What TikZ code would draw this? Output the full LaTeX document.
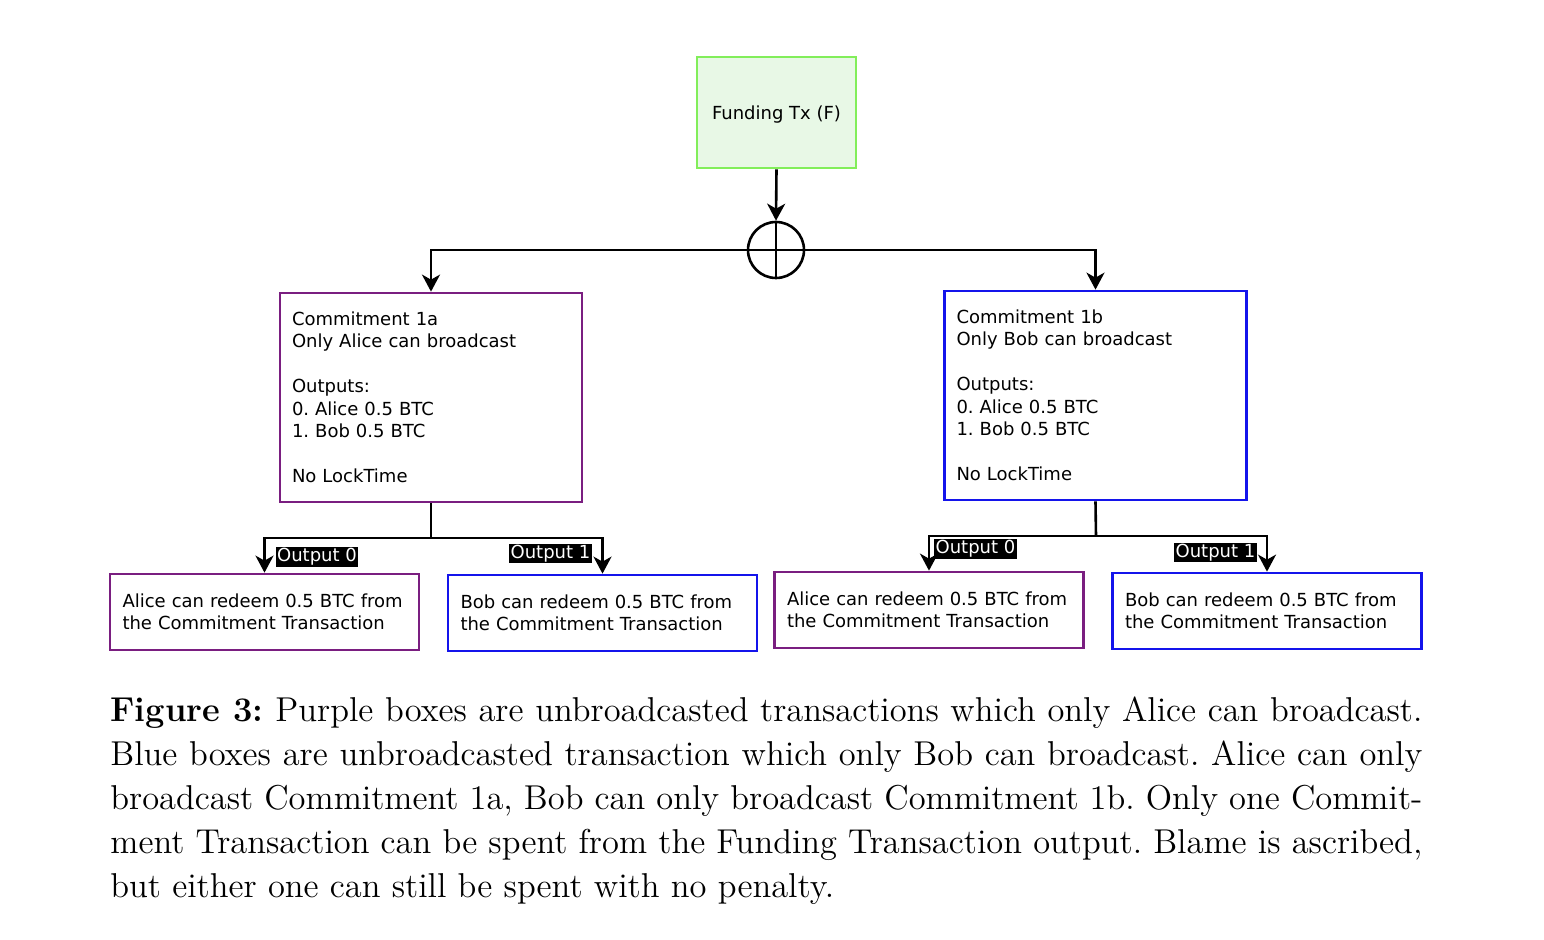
\documentclass[tikz,border=0pt]{standalone}
\usepackage{fontspec}
\newfontfamily\djv{DejaVu Sans}
\newfontfamily\capfont{lmroman12-regular.otf}[BoldFont=lmroman12-bold.otf]
\usetikzlibrary{arrows.meta}
\definecolor{purp}{RGB}{122,30,128}
\definecolor{bluebox}{RGB}{20,20,235}
\definecolor{greenline}{RGB}{130,238,90}
\definecolor{greenfill}{RGB}{232,248,230}
\frenchspacing
\tikzset{
  every node/.style={font=\djv\fontsize{9}{11.25}\selectfont},
  txbox/.style={draw, line width=1.35pt, rectangle, inner xsep=6pt, inner ysep=0pt, align=left},
  bigbox/.style={txbox, minimum width=151pt, minimum height=104.5pt, text width=139pt},
  smallbox/.style={txbox, minimum width=154.5pt, minimum height=38pt, text width=142pt},
  outlabel/.style={fill=black, text=white, inner sep=0.7pt, font=\djv\fontsize{9}{10}\selectfont},
  conn/.style={line width=1.3pt},
  arr/.style={conn, -{Stealth[length=8.5pt,width=9pt,inset=2.5pt]}},
}
\begin{document}
\begin{tikzpicture}[x=0.5pt,y=-0.5pt]
\useasboundingbox (0,0) rectangle (1544,940);
% Funding
\node[draw=greenline, fill=greenfill, line width=1.35pt, minimum width=79.5pt, minimum height=55.5pt, inner sep=0pt] (F) at (776.5,112.5) {\raisebox{-1pt}[\height][\depth]{Funding Tx (F)}};
% XOR circle
\node[draw, circle, line width=1.3pt, minimum size=28pt, inner sep=0pt,
  path picture={\draw[line width=1.3pt] (path picture bounding box.north) -- (path picture bounding box.south);}] (X) at (776,250) {};
% commitments
\node[bigbox, draw=purp] (C1a) at (431,397.5) {Commitment 1a\\Only Alice can broadcast\\[11.25pt]Outputs:\\0. Alice 0.5 BTC\\1. Bob 0.5 BTC\\[11.25pt]No LockTime};
\node[bigbox, draw=bluebox] (C1b) at (1095.5,395.5) {Commitment 1b\\Only Bob can broadcast\\[11.25pt]Outputs:\\0. Alice 0.5 BTC\\1. Bob 0.5 BTC\\[11.25pt]No LockTime};
% outputs
\node[smallbox, draw=purp] (A0) at (264.5,612) {Alice can redeem 0.5 BTC from\\the Commitment Transaction};
\node[smallbox, draw=bluebox] (A1) at (602.5,613) {Bob can redeem 0.5 BTC from\\the Commitment Transaction};
\node[smallbox, draw=purp] (B0) at (929,610) {Alice can redeem 0.5 BTC from\\the Commitment Transaction};
\node[smallbox, draw=bluebox] (B1) at (1267,611) {Bob can redeem 0.5 BTC from\\the Commitment Transaction};
% junctions
\coordinate (JA) at (431,538);
\coordinate (JB) at (1096,536);
% connectors
\draw[arr] (F.south) -- (X.north);
\draw[conn] (X.west) -- (X.east);
\draw[arr] (X.west) -| (C1a.north);
\draw[arr] (X.east) -| (C1b.north);
\draw[conn] (C1a.south) -- (JA);
\draw[arr] (JA) -| (A0.north);
\draw[arr] (JA) -| (A1.north);
\draw[conn] (C1b.south) -- (JB);
\draw[arr] (JB) -| (B0.north);
\draw[arr] (JB) -| (B1.north);
% labels
\node[outlabel] (LA0) at (317,557) {Output 0};
\node[outlabel] (LA1) at (550.5,553.5) {Output 1};
\node[outlabel] (LB0) at (975.5,549) {Output 0};
\node[outlabel] (LB1) at (1215.5,552.5) {Output 1};
% caption
\node[anchor=north west, inner sep=0pt, align=left, font=\capfont\fontsize{17.25}{22}\selectfont] (cap) at (110,696) {%
\makebox[656pt][s]{\textbf{Figure 3:} Purple boxes are unbroadcasted transactions which only Alice can broadcast.}\\
\makebox[656pt][s]{Blue boxes are unbroadcasted transaction which only Bob can broadcast. Alice can only}\\
\makebox[656pt][s]{broadcast Commitment 1a, Bob can only broadcast Commitment 1b. Only one Commit-}\\
\makebox[656pt][s]{ment Transaction can be spent from the Funding Transaction output. Blame is ascribed,}\\
but either one can still be spent with no penalty.};
\end{tikzpicture}
\end{document}
